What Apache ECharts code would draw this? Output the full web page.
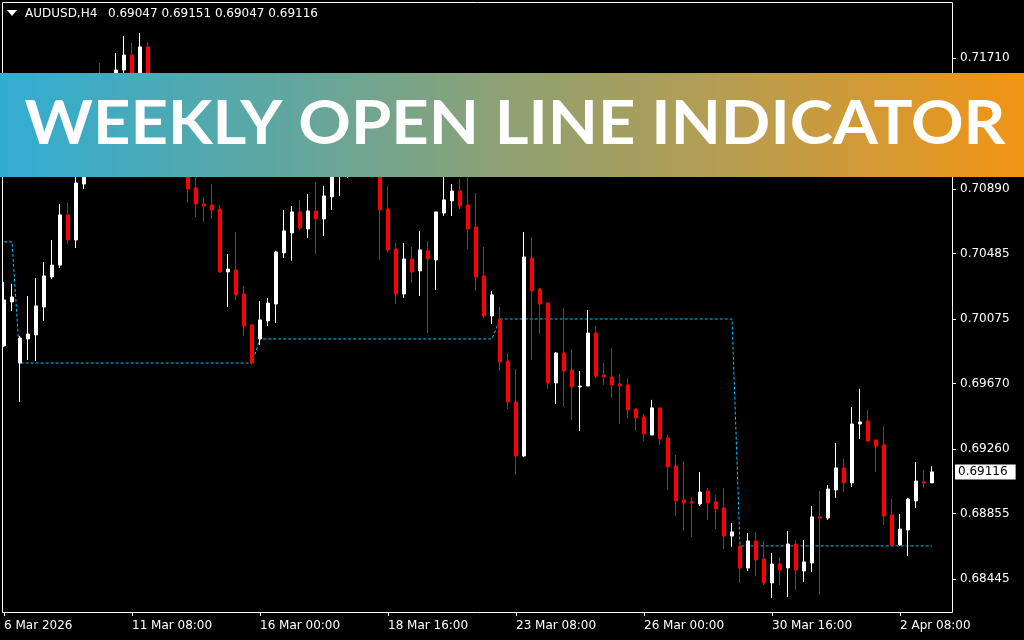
<!DOCTYPE html>
<html>
<head>
<meta charset="utf-8">
<title>AUDUSD H4 - Weekly Open Line</title>
<script src="https://cdn.jsdelivr.net/npm/echarts@6.0.0/dist/echarts.min.js"></script>
<style>
  html, body { margin: 0; padding: 0; background: #000; }
  #chart { width: 1024px; height: 640px; }
</style>
</head>
<body>
<div id="chart"></div>
<script>
// AUDUSD H4, first bar = 6 Mar 2026 16:00
const opens = [
  0.69905, 0.70181, 0.69798, 0.69949, 0.69974, 0.70149, 0.70337, 0.70412, 0.70726, 0.70569,
  0.70920, 0.71196, 0.71478, 0.71384, 0.71497, 0.71634, 0.71728, 0.71603, 0.71779, 0.71540,
  0.71384, 0.71478, 0.71271, 0.71196, 0.70895, 0.70795, 0.70789, 0.70763, 0.70369, 0.70381,
  0.70231, 0.70037, 0.69949, 0.70062, 0.70168, 0.70488, 0.70613, 0.70745, 0.70638, 0.70751,
  0.70701, 0.70839, 0.71020, 0.71196, 0.71290, 0.71227, 0.71321, 0.71196, 0.70763, 0.70513,
  0.70231, 0.70450, 0.70375, 0.70501, 0.70444, 0.70738, 0.70814, 0.70876, 0.70789, 0.70651,
  0.70344, 0.70093, 0.70074, 0.69811, 0.69554, 0.69216, 0.70456, 0.70262, 0.70174, 0.69673,
  0.69861, 0.69755, 0.69648, 0.69654, 0.69986, 0.69723, 0.69711, 0.69667, 0.69661, 0.69510,
  0.69460, 0.69347, 0.69517, 0.69329, 0.69153, 0.68940, 0.68928, 0.68915, 0.68996, 0.68928,
  0.68890, 0.68714, 0.68652, 0.68514, 0.68683, 0.68570, 0.68420, 0.68539, 0.68514, 0.68664,
  0.68495, 0.68545, 0.68834, 0.68827, 0.69003, 0.69141, 0.69047, 0.69416, 0.69435, 0.69316,
  0.69285, 0.68846, 0.68658, 0.68752, 0.68934, 0.69053, 0.69047
]
const highs = [
  0.70306, 0.70294, 0.69968, 0.70218, 0.70331, 0.70431, 0.70569, 0.70795, 0.70801, 0.70970,
  0.71227, 0.71522, 0.71678, 0.71572, 0.71741, 0.71847, 0.71804, 0.71866, 0.71810, 0.71572,
  0.71540, 0.71522, 0.71384, 0.71290, 0.71008, 0.70839, 0.70920, 0.70789, 0.70481, 0.70619,
  0.70281, 0.70043, 0.70187, 0.70206, 0.70501, 0.70757, 0.70782, 0.70820, 0.70857, 0.70933,
  0.70908, 0.71070, 0.71258, 0.71352, 0.71446, 0.71384, 0.71415, 0.71290, 0.70908, 0.70550,
  0.70550, 0.70525, 0.70626, 0.70563, 0.70745, 0.70976, 0.70920, 0.70951, 0.70995, 0.70864,
  0.70525, 0.70250, 0.70149, 0.69861, 0.69761, 0.70619, 0.70588, 0.70269, 0.70181, 0.69867,
  0.70143, 0.69886, 0.69748, 0.70131, 0.70030, 0.69798, 0.69892, 0.69730, 0.69704, 0.69517,
  0.69479, 0.69567, 0.69517, 0.69347, 0.69222, 0.69184, 0.68959, 0.69115, 0.69015, 0.68971,
  0.69015, 0.68796, 0.68652, 0.68733, 0.68740, 0.68683, 0.68608, 0.68583, 0.68746, 0.68689,
  0.68689, 0.68902, 0.68996, 0.69034, 0.69297, 0.69197, 0.69523, 0.69636, 0.69504, 0.69316,
  0.69404, 0.68946, 0.68852, 0.68953, 0.69178, 0.69128, 0.69151
]
const lows = [
  0.69899, 0.70124, 0.69554, 0.69817, 0.69811, 0.70062, 0.70325, 0.70394, 0.70544, 0.70519,
  0.70889, 0.71133, 0.71321, 0.71290, 0.71446, 0.71572, 0.71540, 0.71559, 0.71478, 0.71321,
  0.71290, 0.71227, 0.71133, 0.70801, 0.70713, 0.70682, 0.70701, 0.70362, 0.70149, 0.70193,
  0.69968, 0.69786, 0.69911, 0.70030, 0.70049, 0.70456, 0.70438, 0.70632, 0.70582, 0.70481,
  0.70594, 0.70757, 0.70845, 0.70958, 0.71133, 0.71070, 0.71133, 0.70444, 0.70494, 0.70168,
  0.70206, 0.70300, 0.70218, 0.69986, 0.70256, 0.70720, 0.70720, 0.70763, 0.70513, 0.70250,
  0.70080, 0.70043, 0.69748, 0.69510, 0.69097, 0.69209, 0.69817, 0.69980, 0.69636, 0.69542,
  0.69523, 0.69441, 0.69372, 0.69654, 0.69704, 0.69661, 0.69579, 0.69416, 0.69448, 0.69372,
  0.69310, 0.69347, 0.69285, 0.69003, 0.68840, 0.68746, 0.68708, 0.68902, 0.68815, 0.68758,
  0.68633, 0.68646, 0.68420, 0.68495, 0.68464, 0.68407, 0.68326, 0.68407, 0.68332, 0.68376,
  0.68426, 0.68489, 0.68345, 0.68815, 0.68953, 0.68990, 0.69021, 0.69322, 0.69303, 0.69115,
  0.68783, 0.68652, 0.68652, 0.68589, 0.68890, 0.69015, 0.69047
]
const closes = [
  0.70193, 0.70212, 0.69955, 0.69980, 0.70156, 0.70344, 0.70412, 0.70726, 0.70569, 0.70926,
  0.71196, 0.71478, 0.71384, 0.71509, 0.71634, 0.71728, 0.71603, 0.71779, 0.71540, 0.71384,
  0.71478, 0.71271, 0.71196, 0.70889, 0.70795, 0.70782, 0.70757, 0.70369, 0.70387, 0.70225,
  0.70030, 0.69798, 0.70068, 0.70174, 0.70494, 0.70626, 0.70745, 0.70644, 0.70751, 0.70701,
  0.70845, 0.71020, 0.71196, 0.71290, 0.71227, 0.71321, 0.71196, 0.70757, 0.70507, 0.70231,
  0.70450, 0.70369, 0.70507, 0.70450, 0.70745, 0.70820, 0.70876, 0.70782, 0.70638, 0.70337,
  0.70093, 0.70225, 0.69805, 0.69554, 0.69216, 0.70463, 0.70250, 0.70168, 0.69673, 0.69861,
  0.69748, 0.69648, 0.69654, 0.69986, 0.69717, 0.69711, 0.69661, 0.69654, 0.69504, 0.69454,
  0.69354, 0.69517, 0.69322, 0.69147, 0.68934, 0.68921, 0.68921, 0.68990, 0.68921, 0.68884,
  0.68714, 0.68740, 0.68514, 0.68683, 0.68564, 0.68420, 0.68539, 0.68501, 0.68664, 0.68501,
  0.68552, 0.68834, 0.68827, 0.69009, 0.69141, 0.69047, 0.69416, 0.69429, 0.69310, 0.69278,
  0.68840, 0.68658, 0.68758, 0.68946, 0.69059, 0.69047, 0.69116
]

// weekly open line: value of each week and the bar where that week starts
const weekOpens = [0.70557, 0.69798, 0.69949, 0.70074, 0.68652]
const weekStartBars = [0, 2, 32, 62, 92]

const yTicks = [0.68445, 0.68855, 0.69260, 0.69670, 0.70075, 0.70485, 0.70890, 0.71300, 0.71710]
const xTickLabels = ['6 Mar 2026', '11 Mar 08:00', '16 Mar 00:00', '18 Mar 16:00',
  '23 Mar 08:00', '26 Mar 00:00', '30 Mar 16:00', '2 Apr 08:00']
const xTickEvery = 16
const emptyBarsRight = 2

const symbol = 'AUDUSD,H4'
const bannerText = 'WEEKLY OPEN LINE INDICATOR'

// H4 bar times, weekends skipped
const months = ['Jan', 'Feb', 'Mar', 'Apr', 'May', 'Jun', 'Jul', 'Aug', 'Sep', 'Oct', 'Nov', 'Dec']
function barTimes (n) {
  let out = []
  let t = Date.UTC(2026, 2, 6, 16)
  while (out.length < n) {
    let d = new Date(t)
    let wd = d.getUTCDay()
    if (wd !== 0 && wd !== 6) {
      let hh = String(d.getUTCHours()).padStart(2, '0')
      out.push(d.getUTCDate() + ' ' + months[d.getUTCMonth()] + ' ' + hh + ':00')
    }
    t += 4 * 3600 * 1000
  }
  return out
}

const nBars = opens.length
const times = barTimes(nBars + emptyBarsRight)
const candles = opens.map((o, i) => [o, closes[i], lows[i], highs[i]])
const weekLine = opens.map((o, i) => {
  let w = 0
  weekStartBars.forEach((s, k) => { if (i >= s) w = k })
  return weekOpens[w]
})

const font = 'DejaVu Sans'
const last = nBars - 1
const headerPrices = [opens[last], highs[last], lows[last], closes[last]].map(v => v.toFixed(5)).join(' ')
const priceMin = 0.68238
const priceMax = 0.72054

// stretch the banner title to the width it has in the picture
let ctx = document.createElement('canvas').getContext('2d')
ctx.font = '700 61px Lato'
const bannerScale = 981 / ctx.measureText(bannerText).width

let myChart = echarts.init(document.getElementById('chart'))
myChart.setOption({
  backgroundColor: '#000',
  animation: false,
  grid: { left: -1, right: 72, top: 3, bottom: 28 },
  xAxis: {
    type: 'category',
    data: times,
    boundaryGap: true,
    axisLine: { show: false },
    axisTick: {
      show: true,
      alignWithLabel: true,
      length: 4,
      interval: i => i % xTickEvery === 0,
      lineStyle: { color: '#fff' }
    },
    axisLabel: {
      interval: i => i % xTickEvery === 0,
      formatter: (v, i) => xTickLabels[i / xTickEvery] || '',
      align: 'left',
      margin: 8,
      color: '#fff',
      fontFamily: font,
      fontSize: 12
    },
    splitLine: { show: false }
  },
  yAxis: [
    {
      type: 'value',
      position: 'right',
      min: priceMin,
      max: priceMax,
      splitLine: { show: false },
      axisLine: { show: false },
      axisTick: { show: true, length: 4, customValues: yTicks, lineStyle: { color: '#fff' } },
      axisLabel: {
        customValues: yTicks,
        formatter: v => v.toFixed(5),
        margin: 8,
        color: '#fff',
        fontFamily: font,
        fontSize: 12
      }
    },
    {
      // current price box
      type: 'value',
      position: 'right',
      min: priceMin,
      max: priceMax,
      splitLine: { show: false },
      axisLine: { show: false },
      axisTick: { show: false },
      axisLabel: {
        customValues: [closes[last]],
        formatter: v => v.toFixed(5),
        margin: 3,
        color: '#000',
        backgroundColor: '#fff',
        padding: [1, 8, 0, 3],
        lineHeight: 14,
        fontFamily: font,
        fontSize: 12
      }
    }
  ],
  series: [
    {
      name: 'Weekly open',
      type: 'line',
      data: weekLine,
      symbol: 'none',
      z: 1,
      lineStyle: { color: '#00BFFF', width: 1, type: [3, 2] }
    },
    {
      name: symbol,
      type: 'candlestick',
      data: candles,
      barWidth: 4,
      z: 2,
      itemStyle: {
        color: '#ffffff',
        color0: '#ff0000',
        borderColor: '#ffffff',
        borderColor0: '#ff0000',
        borderWidth: 1
      }
    }
  ],
  graphic: [
    {
      type: 'rect',
      silent: true,
      z: 10,
      shape: { x: 2.5, y: 2.5, width: 950, height: 610 },
      style: { fill: null, stroke: '#fff', lineWidth: 1 }
    },
    {
      type: 'polygon',
      z: 10,
      shape: { points: [[7, 10], [17, 10], [12, 16]] },
      style: { fill: '#fff' }
    },
    {
      type: 'text',
      z: 10,
      x: 25,
      y: 14,
      style: { text: symbol, fill: '#fff', fontFamily: font, fontSize: 12, verticalAlign: 'middle' }
    },
    {
      type: 'text',
      z: 10,
      x: 108,
      y: 14,
      style: { text: headerPrices, fill: '#fff', fontFamily: font, fontSize: 12, verticalAlign: 'middle' }
    },
    {
      type: 'rect',
      z: 100,
      shape: { x: 0, y: 73, width: 1024, height: 104 },
      style: {
        fill: new echarts.graphic.LinearGradient(0, 0, 1, 0, [
          { offset: 0, color: '#31ADD3' },
          { offset: 0.25, color: '#5BA8A5' },
          { offset: 0.5, color: '#8FA172' },
          { offset: 0.75, color: '#BE9C4A' },
          { offset: 1, color: '#F29514' }
        ])
      }
    },
    {
      type: 'text',
      z: 101,
      x: 515,
      y: 124,
      scaleX: bannerScale,
      style: {
        text: bannerText,
        fill: '#fff',
        fontFamily: 'Lato',
        fontWeight: 700,
        fontSize: 61,
        align: 'center',
        verticalAlign: 'middle'
      }
    }
  ]
})
</script>
</body>
</html>
